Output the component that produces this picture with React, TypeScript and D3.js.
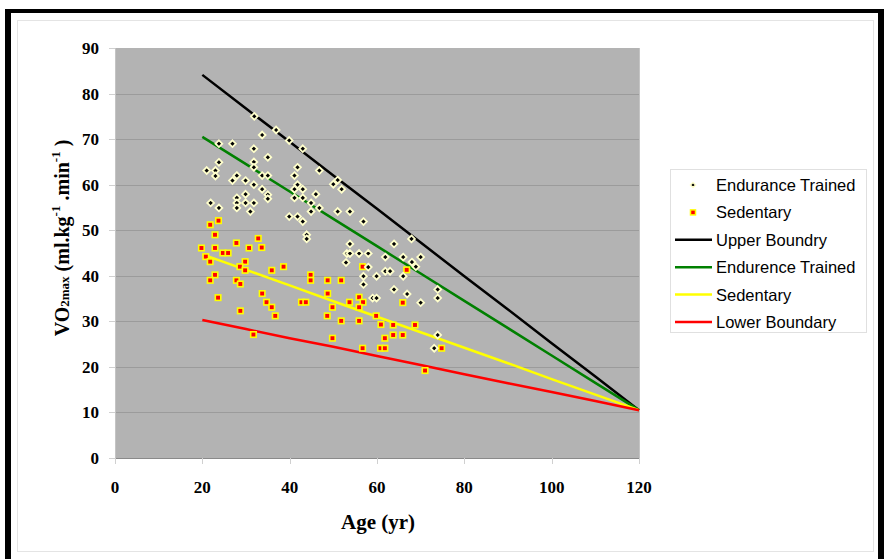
import React from "react";
import * as d3 from "d3";

const yTicks = [0, 10, 20, 30, 40, 50, 60, 70, 80, 90];
const xTicks = [0, 20, 40, 60, 80, 100, 120];

const lineAges = [20, 30, 40, 50, 60, 70, 80, 90, 100, 110, 120];
const upperBoundry = [84.1, 76.7, 69.4, 62.0, 54.7, 47.3, 39.9, 32.6, 25.2, 17.9, 10.5];
const endurenceTrainedLine = [70.5, 64.5, 58.5, 52.5, 46.5, 40.5, 34.5, 28.5, 22.5, 16.5, 10.5];
const sedentaryLine = [44.7, 41.3, 37.9, 34.4, 31.0, 27.6, 24.2, 20.8, 17.3, 13.9, 10.5];
const lowerBoundary = [30.3, 28.3, 26.3, 24.4, 22.4, 20.4, 18.4, 16.4, 14.5, 12.5, 10.5];

const enduranceAge = [
  23.8, 26.9, 23.8, 21.0, 23.0, 23.0, 27.9, 26.9, 29.9, 21.9, 23.8, 27.9, 27.9, 27.9, 29.9, 29.9, 31.0,
  31.9, 33.7, 36.9, 39.9, 43.0, 31.8, 31.8, 31.8, 35.0, 31.8, 33.7, 35.0, 33.7, 35.0, 35.0, 31.8,
  41.8, 41.1, 41.8, 41.1, 43.0, 41.1, 43.0, 46.0, 44.9, 46.8, 44.9, 46.8, 50.0, 51.0, 51.9, 51.0,
  53.8, 56.9, 39.9, 41.8, 43.0, 43.9, 43.9, 53.8, 53.1, 53.8, 55.9, 58.0, 61.9, 52.9, 58.0, 56.9,
  59.9, 61.9, 56.9, 59.0, 59.9, 67.9, 63.9, 66.0, 70.0, 68.0, 68.9, 63.0, 66.0, 63.9, 66.9, 70.0,
  73.9, 73.9, 73.9, 73.1,
];
const enduranceVO2 = [
  69.0, 69.0, 64.9, 63.1, 63.1, 61.9, 62.0, 60.9, 60.9, 56.0, 54.9, 57.1, 56.0, 54.9, 57.9, 56.0, 54.1,
  75.0, 70.9, 72.0, 69.7, 67.9, 67.9, 65.0, 63.8, 66.0, 60.0, 62.0, 62.0, 59.0, 57.8, 56.9, 56.0,
  63.8, 62.0, 60.0, 59.0, 59.0, 57.1, 57.1, 57.9, 56.0, 54.9, 54.1, 63.1, 60.1, 61.0, 59.0, 54.1,
  54.1, 51.9, 53.0, 53.0, 51.9, 49.0, 48.1, 47.0, 44.9, 44.9, 44.9, 44.9, 44.1, 42.9, 41.9, 39.9,
  39.9, 41.0, 38.1, 35.1, 35.1, 48.1, 47.0, 44.1, 44.1, 43.0, 42.0, 41.0, 39.9, 37.0, 36.0, 34.1,
  37.0, 35.1, 27.0, 24.1,
];

const sedentaryAge = [
  21.8, 23.7, 22.9, 19.8, 22.9, 27.8, 30.7, 24.7, 25.9, 20.8, 21.8, 29.8, 28.6, 29.8, 22.9, 21.8,
  27.8, 28.7, 23.6, 28.7, 32.8, 33.6, 38.6, 35.9, 44.8, 44.8, 48.7, 51.8, 56.7, 33.7, 48.7, 34.7,
  35.9, 36.7, 42.7, 43.7, 49.8, 48.6, 51.8, 53.7, 55.9, 56.8, 55.9, 55.9, 59.8, 60.9, 61.8, 31.7,
  49.8, 56.7, 60.8, 61.8, 66.8, 65.9, 63.7, 68.7, 63.7, 65.9, 74.8, 71.0,
];
const sedentaryVO2 = [
  51.2, 52.1, 49.0, 46.1, 46.1, 47.2, 46.1, 45.0, 45.0, 44.2, 43.1, 43.1, 42.0, 41.2, 40.2, 39.0,
  39.0, 38.2, 35.2, 32.3, 48.2, 46.2, 42.0, 41.2, 40.2, 39.0, 39.0, 39.0, 42.0, 36.1, 36.1, 34.2,
  33.1, 31.2, 34.2, 34.2, 33.1, 31.2, 30.1, 34.2, 35.3, 34.2, 33.1, 30.1, 31.2, 29.3, 26.3, 27.1,
  26.3, 24.1, 24.1, 24.1, 41.3, 34.1, 29.2, 29.2, 27.0, 27.0, 24.1, 19.2,
];

const legendItems = [
  { label: "Endurance Trained", kind: "diamond", color: "#000" },
  { label: "Sedentary", kind: "square", color: "#FF0000" },
  { label: "Upper Boundry", kind: "line", color: "#000000" },
  { label: "Endurence Trained", kind: "line", color: "#008000" },
  { label: "Sedentary", kind: "line", color: "#FFFF00" },
  { label: "Lower Boundary", kind: "line", color: "#FF0000" },
];

const W = 888;
const H = 559;

export default function App() {
  const x = d3.scaleLinear().domain([0, 120]).range([115, 639]);
  const y = d3.scaleLinear().domain([0, 90]).range([458, 48]);

  const lineGen = d3
    .line<[number, number]>()
    .x((d) => x(d[0]))
    .y((d) => y(d[1]));

  const lines = [
    { vals: upperBoundry, color: "#000000" },
    { vals: endurenceTrainedLine, color: "#008000" },
    { vals: sedentaryLine, color: "#FFFF00" },
    { vals: lowerBoundary, color: "#FF0000" },
  ];

  const diamond = (cx: number, cy: number, r: number) =>
    `M${cx},${cy - r}L${cx + r},${cy}L${cx},${cy + r}L${cx - r},${cy}Z`;

  const serif = "'Liberation Serif', 'Times New Roman', serif";
  const sans = "'Liberation Sans', Arial, sans-serif";

  return (
    <svg
      width={W}
      height={H}
      style={{ position: "absolute", left: 0, top: 0, background: "#fff" }}
    >
      {/* frame */}
      <rect x={0} y={0} width={W} height={H} fill="#fff" />
      <rect x={5} y={9} width={6} height={H} fill="#000" />
      <rect x={5} y={9} width={879} height={4} fill="#000" />
      <rect x={878} y={9} width={6} height={H} fill="#000" />
      <rect x={17.5} y={20.5} width={856} height={531} fill="none" stroke="#e4e4e4" strokeWidth={1} />

      {/* plot area */}
      <rect x={115} y={48} width={524} height={410} fill="#B3B3B3" />
      {yTicks.map((t) => (
        <line
          key={"g" + t}
          x1={115}
          x2={639}
          y1={Math.round(y(t)) + 0.5}
          y2={Math.round(y(t)) + 0.5}
          stroke={t === 0 ? "#8a8a8a" : t === 90 ? "none" : "#9b9b9b"}
          strokeWidth={1}
        />
      ))}
      <line x1={115.5} x2={115.5} y1={48} y2={458} stroke="#c4c4c4" />
      <line x1={639.5} x2={639.5} y1={48} y2={458} stroke="#c4c4c4" />

      {/* ticks */}
      {yTicks.map((t) => (
        <g key={"yt" + t}>
          <line x1={109} x2={115} y1={Math.round(y(t)) + 0.5} y2={Math.round(y(t)) + 0.5} stroke="#d0d0d0" />
          <text
            x={99}
            y={y(t)}
            dy="0.35em"
            textAnchor="end"
            fontFamily={serif}
            fontWeight="bold"
            fontSize={17}
            fill="#000"
          >
            {t}
          </text>
        </g>
      ))}
      {xTicks.map((t) => (
        <g key={"xt" + t}>
          <line x1={Math.round(x(t)) + 0.5} x2={Math.round(x(t)) + 0.5} y1={458} y2={464} stroke="#d0d0d0" />
          <text
            x={x(t)}
            y={493}
            textAnchor="middle"
            fontFamily={serif}
            fontWeight="bold"
            fontSize={17}
            fill="#000"
          >
            {t}
          </text>
        </g>
      ))}

      {/* lines */}
      {lines.map((l, i) => (
        <path
          key={"l" + i}
          d={lineGen(lineAges.map((a, j) => [a, l.vals[j]] as [number, number])) || ""}
          fill="none"
          stroke={l.color}
          strokeWidth={2.5}
        />
      ))}

      {/* sedentary points */}
      {sedentaryAge.map((a, i) => (
        <rect
          key={"s" + i}
          x={x(a) - 2.75}
          y={y(sedentaryVO2[i]) - 2.75}
          width={5.5}
          height={5.5}
          fill="#FF0000"
          stroke="#FFFF00"
          strokeWidth={1.6}
        />
      ))}

      {/* endurance points */}
      {enduranceAge.map((a, i) => (
        <path
          key={"e" + i}
          d={diamond(x(a), y(enduranceVO2[i]), 3.4)}
          fill="#000"
          stroke="#FFFFCC"
          strokeWidth={1.8}
        />
      ))}

      {/* axis titles */}
      <text
        x={378}
        y={529}
        textAnchor="middle"
        fontFamily={serif}
        fontWeight="bold"
        fontSize={21}
        fill="#000"
      >
        Age (yr)
      </text>
      <text
        transform="translate(69,238) rotate(-90)"
        textAnchor="middle"
        fontFamily={serif}
        fontWeight="bold"
        fontSize={20}
        fill="#000"
      >
        <tspan>VO</tspan>
        <tspan fontSize={13}>2max</tspan>
        <tspan> (ml.kg</tspan>
        <tspan fontSize={13} dy={-9}>-1</tspan>
        <tspan dy={9}> .min</tspan>
        <tspan fontSize={13} dy={-9}>-1</tspan>
        <tspan dy={9}> )</tspan>
      </text>

      {/* legend */}
      <rect x={670.5} y={169.5} width={196} height={163} fill="#fff" stroke="#e0e0e0" />
      {legendItems.map((it, i) => {
        const cy = 185 + i * 27.4;
        return (
          <g key={"lg" + i}>
            {it.kind === "line" && (
              <line x1={675} x2={712} y1={cy} y2={cy} stroke={it.color} strokeWidth={2.5} />
            )}
            {it.kind === "diamond" && (
              <path d={diamond(693, cy, 2.6)} fill="#000" stroke="#FFFFCC" strokeWidth={1.4} />
            )}
            {it.kind === "square" && (
              <rect x={690.5} y={cy - 2.5} width={5} height={5} fill="#FF0000" stroke="#FFFF00" strokeWidth={1.5} />
            )}
            <text x={716} y={cy} dy="0.36em" fontFamily={sans} fontSize={16.5} fill="#000">
              {it.label}
            </text>
          </g>
        );
      })}
    </svg>
  );
}
